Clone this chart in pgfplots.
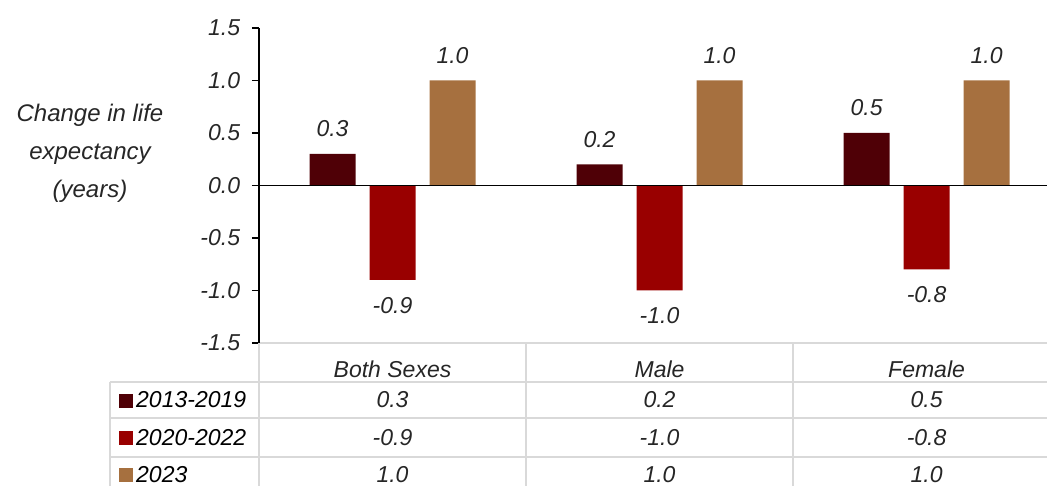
\documentclass[border=0pt]{standalone}
\usepackage{pgfplots}
\pgfplotsset{compat=1.18}
\usepackage{pgfplotstable}
\usepackage{fontspec}
\setmainfont{Liberation Sans}

\definecolor{c1}{HTML}{4F0006}
\definecolor{c2}{HTML}{990000}
\definecolor{c3}{HTML}{A6703F}
\definecolor{gridgray}{HTML}{D9D9D9}
\definecolor{txt}{HTML}{262626}

% change in life expectancy (years)
\pgfplotstableread{
x a b c
0 0.3 -0.9 1.0
1 0.2 -1.0 1.0
2 0.5 -0.8 1.0
}\data

\begin{document}
\fontsize{23}{38}\selectfont\itshape\color{txt}
\begin{tikzpicture}
\useasboundingbox (-259pt,-143pt) rectangle (788pt,343pt);
\begin{axis}[
    scale only axis, width=788pt, height=315pt,
    xmin=-0.5, xmax=2.451, ymin=-1.5, ymax=1.5,
    clip=false,
    axis lines*=left, axis line style={-},
    x axis line style={draw=gridgray, line width=2pt},
    y axis line style={black, line width=1.5pt},
    xtick={0,1,2}, xticklabels={Both Sexes, Male, Female},
    x tick style={draw=none},
    xticklabel style={anchor=center, yshift=-19pt},
    ytick={-1.5,-1,-0.5,0,0.5,1,1.5},
    yticklabel style={xshift=-4pt},
    y tick style={black, line width=1.5pt},
    major tick length=7pt, tick align=outside,
    /pgf/number format/fixed,
    /pgf/number format/fixed zerofill,
    /pgf/number format/precision=1,
    /pgf/number format/assume math mode=true,
    ylabel={Change in life\\expectancy\\(years)},
    every axis y label/.style={at={(axis description cs:-0.2145,0.602)}, anchor=center, align=center,
        font=\fontsize{24}{38}\selectfont\itshape},
    bars/.style={ybar, bar width=46pt, draw=none, nodes near coords, nodes near coords align=vertical,
        every node near coord/.append style={inner ysep=17pt, text=txt}},
    row/.style={draw=none, mark=none, nodes near coords,
        every node near coord/.append style={anchor=center, text=txt}},
]
% bars
\addplot[bars, bar shift=-60pt, fill=c1, every node near coord/.append style={xshift=-60pt}] table[x=x, y=a] {\data};
\addplot[bars, bar shift=0pt, fill=c2] table[x=x, y=b] {\data};
\addplot[bars, bar shift=60pt, fill=c3, every node near coord/.append style={xshift=60pt}] table[x=x, y=c] {\data};

% data table rows
\addplot[row, point meta=\thisrow{a}] table[x=x, y expr=-2.043] {\data};
\addplot[row, point meta=\thisrow{b}] table[x=x, y expr=-2.400] {\data};
\addplot[row, point meta=\thisrow{c}] table[x=x, y expr=-2.752] {\data};

\draw[black, line width=1.8pt] (axis cs:-0.5,0) -- (axis cs:2.451,0);

% table grid
\draw[gridgray, line width=2pt] (axis cs:-0.5,-1.5) -- (axis cs:-0.5,-3);
\draw[gridgray, line width=2pt] (axis cs:0.5,-1.5) -- (axis cs:0.5,-3);
\draw[gridgray, line width=2pt] (axis cs:1.5,-1.5) -- (axis cs:1.5,-3);
\draw[gridgray, line width=2pt] (axis cs:-1.058,-1.867) -- (axis cs:-1.058,-3);
\draw[gridgray, line width=2pt] (axis cs:-1.058,-1.867) -- (axis cs:2.451,-1.867);
\draw[gridgray, line width=2pt] (axis cs:-1.058,-2.219) -- (axis cs:2.451,-2.219);
\draw[gridgray, line width=2pt] (axis cs:-1.058,-2.581) -- (axis cs:2.451,-2.581);

\node[anchor=west, inner xsep=9pt] at (axis cs:-1.058,-2.043) {\textcolor{c1}{\rule{14pt}{14pt}}\hspace{3pt}2013-2019};
\node[anchor=west, inner xsep=9pt] at (axis cs:-1.058,-2.400) {\textcolor{c2}{\rule{14pt}{14pt}}\hspace{3pt}2020-2022};
\node[anchor=west, inner xsep=9pt] at (axis cs:-1.058,-2.752) {\textcolor{c3}{\rule{14pt}{14pt}}\hspace{3pt}2023};
\end{axis}
\end{tikzpicture}
\end{document}
